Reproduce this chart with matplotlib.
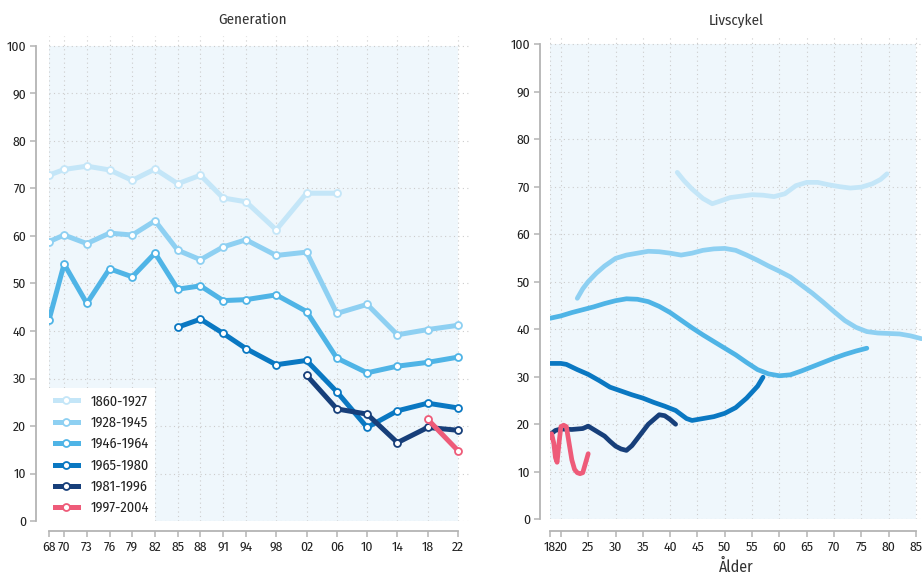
import matplotlib
matplotlib.use("Agg")
import matplotlib.pyplot as plt
import numpy as np

plt.rcParams['font.family'] = ['Fira Sans Condensed', 'DejaVu Sans']
plt.rcParams['font.stretch'] = 'condensed'

# --- Generation (vänster panel) ---
years = [1968, 1970, 1973, 1976, 1979, 1982, 1985, 1988, 1991, 1994, 1998,
         2002, 2006, 2010, 2014, 2018, 2022]
year_labels = ['68', '70', '73', '76', '79', '82', '85', '88', '91', '94', '98',
               '02', '06', '10', '14', '18', '22']

gen_1860 = [72.8, 74.0, 74.7, 73.9, 71.7, 74.1, 71.0, 72.8, 68.0, 67.2, 61.3, 69.0, 69.0]
gen_1928 = [58.8, 60.2, 58.4, 60.6, 60.2, 63.2, 57.0, 55.0, 57.7, 59.2, 55.9, 56.6,
            43.7, 45.6, 39.2, 40.3, 41.2]
gen_1946 = [42.3, 54.1, 45.8, 53.1, 51.4, 56.4, 48.8, 49.5, 46.4, 46.6, 47.6, 44.1,
            34.3, 31.2, 32.6, 33.4, 34.5]
gen_1965 = [40.8, 42.5, 39.5, 36.3, 32.9, 33.8, 27.2, 19.7, 23.2, 24.8, 23.8]
gen_1981 = [30.7, 23.6, 22.5, 16.5, 19.7, 19.1]
gen_1997 = [21.4, 14.8]

# --- Livscykel (höger panel) ---
age_1860 = [41.3, 42.5, 44, 46, 47.7, 49, 51, 53, 55, 57, 59, 61, 63, 65, 67, 69, 71,
            73, 75, 77, 78.5, 79.7]
liv_1860 = [73.0, 71.3, 69.5, 67.5, 66.4, 66.9, 67.7, 68.0, 68.3, 68.2, 67.9, 68.5,
            70.2, 70.9, 70.9, 70.4, 70.0, 69.7, 69.9, 70.6, 71.5, 72.7]
age_1928 = [23, 24, 25, 26.5, 28, 30, 32, 34, 36, 38, 40, 42, 44, 46, 48, 50, 52, 54,
            56, 58, 60, 62, 64, 66, 68, 70, 72, 74, 76, 78, 80, 82, 84, 86]
liv_1928 = [46.5, 48.5, 50.0, 51.8, 53.3, 54.9, 55.6, 56.0, 56.4, 56.3, 56.0, 55.6,
            56.0, 56.6, 56.9, 57.0, 56.6, 55.6, 54.5, 53.3, 52.2, 51.0, 49.3, 47.6,
            45.7, 43.7, 41.8, 40.4, 39.5, 39.2, 39.1, 39.0, 38.6, 38.0]
age_1946 = [18, 20, 22, 24, 26, 28, 30, 32, 34, 36, 38, 40, 42, 44, 46, 48, 50, 52,
            54, 56, 58, 60, 62, 64, 66, 68, 70, 72, 74, 76]
liv_1946 = [42.3, 42.8, 43.5, 44.1, 44.7, 45.4, 46.0, 46.4, 46.3, 45.8, 44.8, 43.5,
            41.9, 40.3, 38.8, 37.4, 36.0, 34.6, 33.0, 31.5, 30.6, 30.2, 30.4, 31.2,
            32.1, 33.0, 33.9, 34.7, 35.4, 36.0]
age_1965 = [18, 20, 21, 23, 25, 27, 29, 31, 33, 35, 37, 39, 41, 43, 44, 46, 48, 50,
            52, 54, 56, 57]
liv_1965 = [32.8, 32.8, 32.6, 31.5, 30.5, 29.2, 27.8, 27.0, 26.2, 25.5, 24.6, 23.8,
            22.9, 21.2, 20.8, 21.2, 21.6, 22.3, 23.5, 25.5, 28.0, 29.9]
age_1981 = [18, 19, 20, 22, 24, 25, 26, 27, 28, 29, 30, 31, 32, 33, 34, 35, 36, 37,
            38, 39, 40, 41]
liv_1981 = [17.8, 18.7, 19.0, 18.9, 19.1, 19.6, 18.9, 18.2, 17.5, 16.4, 15.4, 14.8,
            14.5, 15.5, 17.0, 18.5, 20.0, 21.0, 22.0, 21.8, 21.0, 20.0]
age_1997 = [18, 18.3, 18.7, 19.0, 19.3, 19.7, 20.0, 20.5, 21.0, 21.5, 22.0, 22.5,
            23.0, 23.5, 24.0, 24.5, 25.0]
liv_1997 = [17.2, 18.0, 16.0, 13.0, 12.0, 16.5, 19.5, 19.8, 19.5, 16.0, 12.5, 10.5,
            9.8, 9.6, 9.8, 11.8, 13.8]
age_ticks = [18, 20, 25, 30, 35, 40, 45, 50, 55, 60, 65, 70, 75, 80, 85]

labels = ['1860-1927', '1928-1945', '1946-1964', '1965-1980', '1981-1996', '1997-2004']
colors = ['#c4e6f8', '#8ed0f2', '#4fb4e6', '#0a78c2', '#173f7a', '#ee5b79']

gen_series = [(years[:13], gen_1860), (years, gen_1928), (years, gen_1946),
              (years[6:], gen_1965), (years[11:], gen_1981), (years[15:], gen_1997)]
liv_series = [(age_1860, liv_1860), (age_1928, liv_1928), (age_1946, liv_1946),
              (age_1965, liv_1965), (age_1981, liv_1981), (age_1997, liv_1997)]

shade = '#eff7fc'
spine_c = '#b4b4b4'
txt = '#222222'
fs = 9.8

fig = plt.figure(figsize=(9.22, 5.74), dpi=100)
ax1 = fig.add_axes([0.0531, 0.0923, 0.4556, 0.845])
ax2 = fig.add_axes([0.5965, 0.0953, 0.4035, 0.842])


def style(ax, x0, x1, xmax, ytop, xticks, xlabels, lpad, bpad):
    ax.set_xlim(x0, xmax)
    ax.set_ylim(0, ytop)
    ax.axvspan(x0, x1, ymin=0, ymax=100 / ytop, color=shade, lw=0, zorder=0)
    ax.set_xticks(xticks)
    ax.set_xticklabels(xlabels)
    ax.set_yticks(range(0, 101, 10))
    ax.grid(True, color='#cccccc', linestyle=(0, (1, 3)), linewidth=0.8, zorder=1)
    ax.set_axisbelow(True)
    for s in ['top', 'right']:
        ax.spines[s].set_visible(False)
    ax.spines['left'].set_position(('outward', lpad))
    ax.spines['bottom'].set_position(('outward', bpad))
    ax.spines['left'].set_bounds(0, 100)
    ax.spines['bottom'].set_bounds(x0, x1)
    for s in ['left', 'bottom']:
        ax.spines[s].set_color(spine_c)
        ax.spines[s].set_linewidth(1.3)
    ax.tick_params(colors=spine_c, labelcolor=txt, labelsize=fs, length=4.5,
                   width=1.1, pad=2.5)
    ax.set_facecolor('none')


style(ax1, 1968, 2022, 2023.45, 102.1, years, year_labels, 9.4, 7.2)
style(ax2, 18, 85, 86.1, 101.7, age_ticks, [str(a) for a in age_ticks], 7.2, 8.4)

for (x, y), c, lab in zip(gen_series, colors, labels):
    ax1.plot(x, y, color=c, lw=3.6, marker='o', ms=5, mfc='white', mec=c, mew=1.3,
             label=lab, zorder=3, solid_joinstyle='round')

for (x, y), c in zip(liv_series, colors):
    ax2.plot(x, y, color=c, lw=3.4, zorder=3, solid_capstyle='round',
             solid_joinstyle='round')

leg = ax1.legend(loc='lower left', bbox_to_anchor=(0, 0), borderaxespad=0,
                 frameon=True, fancybox=False, fontsize=10.3, handlelength=1.65,
                 handletextpad=0.85, labelspacing=0.5, borderpad=0.4)
leg.get_frame().set_facecolor('white')
leg.get_frame().set_edgecolor('none')
leg.get_frame().set_alpha(1)
leg.set_zorder(5)
for t in leg.get_texts():
    t.set_color(txt)

fig.text(253 / 922, 1 - 20 / 574, 'Generation', ha='center', va='center',
         fontsize=10.8, color='#333333')
fig.text(736 / 922, 1 - 21 / 574, 'Livscykel', ha='center', va='center',
         fontsize=10.8, color='#333333')
fig.text(736 / 922, 1 - 567 / 574, 'Ålder', ha='center', va='center',
         fontsize=11.5, color='#333333')

fig.savefig('out.png', dpi=100)
